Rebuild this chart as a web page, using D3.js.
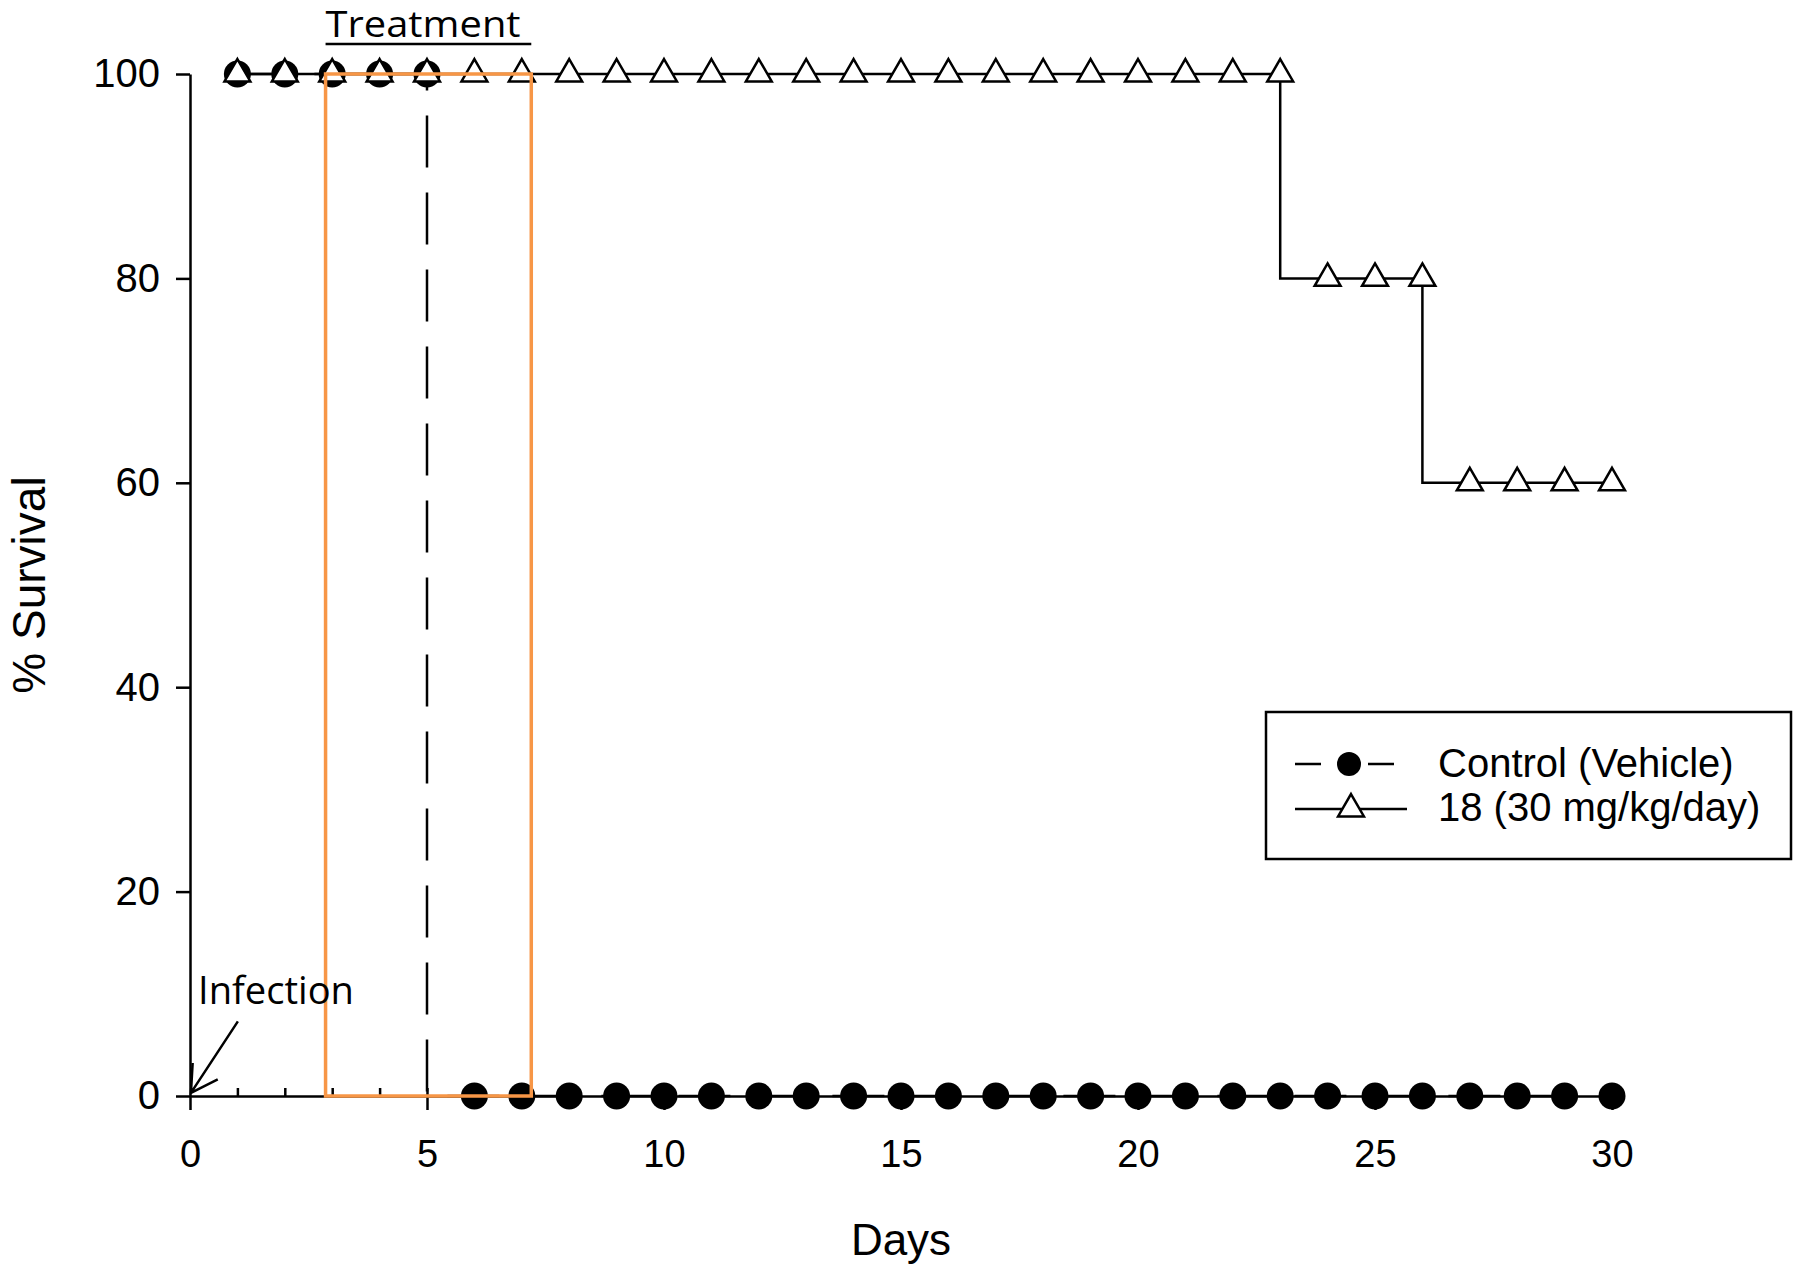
<!DOCTYPE html>
<html>
<head>
  <script src="https://cdn.jsdelivr.net/npm/d3@7"></script>
  <style>
    body { margin: 0; background: #fff; }
    text { font-family: "Liberation Sans", Arial, sans-serif; fill: #000; }
    .axis path, .axis line { stroke: #000; stroke-width: 2.5; }
    .axis text { font-size: 38px; font-family: "Liberation Sans", Arial, sans-serif; }
    .yaxis text { font-size: 40px; }
    .note { font-family: "Open Sans", sans-serif; font-size: 36px; }
  </style>
</head>
<body>
  <svg width="1800" height="1274"></svg>
<script>
  // data
  const days = [1, 2, 3, 4, 5, 6, 7, 8, 9, 10, 11, 12, 13, 14, 15,
    16, 17, 18, 19, 20, 21, 22, 23, 24, 25, 26, 27, 28, 29, 30];
  const controlSurvival = [100, 100, 100, 100, 100, 0, 0, 0, 0, 0, 0, 0, 0, 0, 0,
    0, 0, 0, 0, 0, 0, 0, 0, 0, 0, 0, 0, 0, 0, 0];
  const treatedSurvival = [100, 100, 100, 100, 100, 100, 100, 100, 100, 100, 100, 100, 100, 100, 100,
    100, 100, 100, 100, 100, 100, 100, 100, 80, 80, 80, 60, 60, 60, 60];
  const xTicks = [0, 5, 10, 15, 20, 25, 30];
  const yTicks = [0, 20, 40, 60, 80, 100];
  const treatmentWindow = [2.86, 7.2];   // orange box, in days
  const infectionArrow = { from: [1.01, 7.3], to: [0.02, 0.3] };
  const seriesNames = ['Control (Vehicle)', '18 (30 mg/kg/day)'];

  const margin = { top: 74, left: 190 };
  const width = 1422;
  const height = 1022;

  const svg = d3.select('svg');
  const chart = svg.append('g')
    .attr('transform', `translate(${margin.left}, ${margin.top})`);

  const xScale = d3.scaleLinear().domain([0, 30]).range([0, width]);
  const yScale = d3.scaleLinear().domain([0, 100]).range([height, 0]);

  //y axis
  chart.append('g')
    .attr('class', 'axis yaxis')
    .call(d3.axisLeft(yScale).tickValues(yTicks).tickSize(14).tickSizeOuter(0).tickPadding(16));

  //x axis: minor ticks inside every day, major ticks outside
  chart.append('g')
    .attr('class', 'axis')
    .attr('transform', `translate(0, ${height})`)
    .call(d3.axisBottom(xScale).tickValues(days).tickSize(-8).tickSizeOuter(0).tickFormat(''));
  const xMajor = chart.append('g')
    .attr('class', 'axis')
    .attr('transform', `translate(0, ${height})`)
    .call(d3.axisBottom(xScale).tickValues(xTicks).tickSize(14).tickSizeOuter(0).tickPadding(30));
  xMajor.select('.domain').remove();
  chart.selectAll('.axis .tick text').attr('font-family', null).attr('font-size', null);

  svg.append('text')
    .attr('transform', `translate(45, ${margin.top + height / 2}) rotate(-90)`)
    .attr('text-anchor', 'middle')
    .style('font-size', '46px')
    .text('% Survival');

  svg.append('text')
    .attr('x', margin.left + xScale(15))
    .attr('y', 1255)
    .attr('text-anchor', 'middle')
    .style('font-size', '44px')
    .text('Days');

  const control = days.map((d, i) => ({ day: d, value: controlSurvival[i] }));
  const treated = days.map((d, i) => ({ day: d, value: treatedSurvival[i] }));

  const line = d3.line()
    .x(d => xScale(d.day))
    .y(d => yScale(d.value))
    .curve(d3.curveStepBefore);

  chart.append('path')
    .datum(control)
    .attr('d', line)
    .attr('fill', 'none')
    .attr('stroke', '#000')
    .attr('stroke-width', 2.5)
    .attr('stroke-dasharray', '52,25');

  chart.append('path')
    .datum(treated)
    .attr('d', line)
    .attr('fill', 'none')
    .attr('stroke', '#000')
    .attr('stroke-width', 2.5);

  chart.selectAll('.dot')
    .data(control)
    .enter()
    .append('circle')
    .attr('class', 'dot')
    .attr('cx', d => xScale(d.day))
    .attr('cy', d => yScale(d.value))
    .attr('r', 13.5)
    .attr('fill', '#000');

  const tri = d3.symbol().type(d3.symbolTriangle).size(290);
  chart.selectAll('.tri')
    .data(treated)
    .enter()
    .append('path')
    .attr('class', 'tri')
    .attr('d', tri)
    .attr('transform', d => `translate(${xScale(d.day)}, ${yScale(d.value)})`)
    .attr('fill', '#fff')
    .attr('stroke', '#000')
    .attr('stroke-width', 2.5);

  //treatment window
  chart.append('rect')
    .attr('x', xScale(treatmentWindow[0]))
    .attr('y', yScale(100))
    .attr('width', xScale(treatmentWindow[1]) - xScale(treatmentWindow[0]))
    .attr('height', yScale(0) - yScale(100))
    .attr('fill', 'none')
    .attr('stroke', '#F79646')
    .attr('stroke-width', 3.5);

  svg.append('text')
    .attr('class', 'note')
    .attr('x', margin.left + xScale(treatmentWindow[0]))
    .attr('y', 37)
    .attr('textLength', 195)
    .attr('lengthAdjust', 'spacingAndGlyphs')
    .text('Treatment');
  chart.append('line')
    .attr('x1', xScale(treatmentWindow[0]))
    .attr('x2', xScale(treatmentWindow[1]))
    .attr('y1', -30)
    .attr('y2', -30)
    .attr('stroke', '#000')
    .attr('stroke-width', 2.5);

  //infection arrow
  const [tx, ty] = [xScale(infectionArrow.to[0]), yScale(infectionArrow.to[1])];
  const [fx, fy] = [xScale(infectionArrow.from[0]), yScale(infectionArrow.from[1])];
  const ang = Math.atan2(fy - ty, fx - tx);
  const arm = 30, spread = Math.PI / 6;
  const arrow = d3.path();
  arrow.moveTo(fx, fy);
  arrow.lineTo(tx, ty);
  arrow.moveTo(tx + arm * Math.cos(ang - spread), ty + arm * Math.sin(ang - spread));
  arrow.lineTo(tx, ty);
  arrow.lineTo(tx + arm * Math.cos(ang + spread), ty + arm * Math.sin(ang + spread));
  chart.append('path')
    .attr('d', arrow.toString())
    .attr('fill', 'none')
    .attr('stroke', '#000')
    .attr('stroke-width', 2.5);

  svg.append('text')
    .attr('class', 'note')
    .attr('x', 198)
    .attr('y', 1004)
    .attr('textLength', 156)
    .attr('lengthAdjust', 'spacingAndGlyphs')
    .style('font-size', '38px')
    .text('Infection');

  //legend
  const legend = svg.append('g').attr('transform', 'translate(1266, 712)');
  legend.append('rect')
    .attr('width', 525)
    .attr('height', 147)
    .attr('fill', '#fff')
    .attr('stroke', '#000')
    .attr('stroke-width', 2.5);

  legend.append('line')
    .attr('x1', 29).attr('x2', 129).attr('y1', 52).attr('y2', 52)
    .attr('stroke', '#000').attr('stroke-width', 2.5)
    .attr('stroke-dasharray', '26,47');
  legend.append('circle')
    .attr('cx', 83).attr('cy', 52).attr('r', 12)
    .attr('fill', '#000');

  legend.append('line')
    .attr('x1', 29).attr('x2', 141).attr('y1', 97).attr('y2', 97)
    .attr('stroke', '#000').attr('stroke-width', 2.5);
  legend.append('path')
    .attr('d', tri)
    .attr('transform', 'translate(85, 97)')
    .attr('fill', '#fff')
    .attr('stroke', '#000')
    .attr('stroke-width', 2.5);

  legend.selectAll('.ltext')
    .data(seriesNames)
    .enter()
    .append('text')
    .attr('x', 172)
    .attr('y', (d, i) => 65 + i * 44)
    .style('font-size', '40px')
    .text(d => d);
</script>
</body>
</html>
